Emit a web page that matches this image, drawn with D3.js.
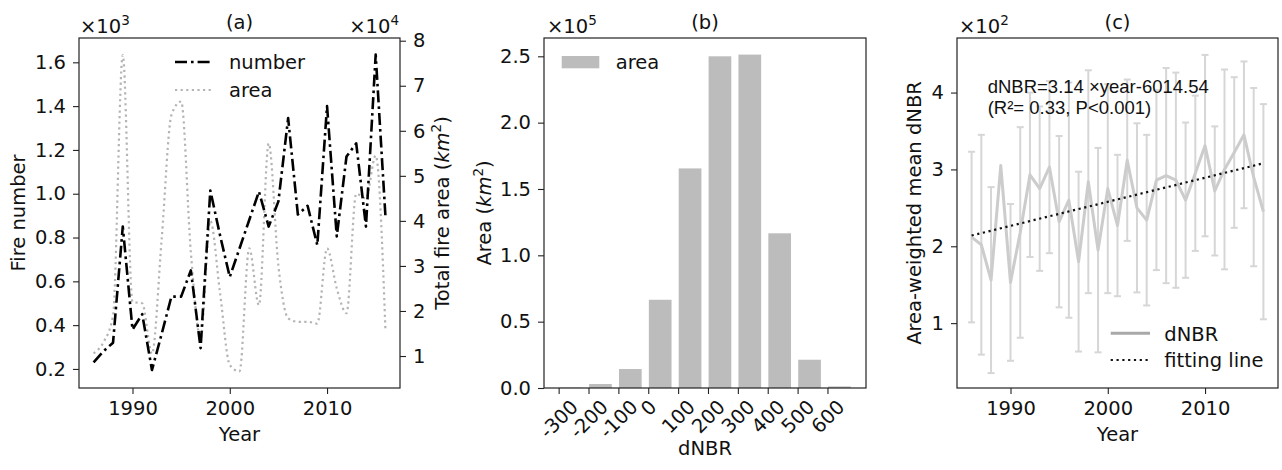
<html>
<head>
<style>
  body { margin: 0; background: #fff; }
  text { font-family: "DejaVu Sans", sans-serif; }
</style>
</head>
<body>
<svg id="chart" width="1282" height="470"></svg>
<script src="https://d3js.org/d3.v7.min.js"></script>
<script>
// ---- data ----
const years = [1986, 1987, 1988, 1989, 1990, 1991, 1992, 1993, 1994, 1995, 1996,
               1997, 1998, 1999, 2000, 2001, 2002, 2003, 2004, 2005, 2006,
               2007, 2008, 2009, 2010, 2011, 2012, 2013, 2014, 2015, 2016]
// fire number, x10^3
const fireNumber = [0.23, 0.28, 0.32, 0.85, 0.38, 0.45, 0.195, 0.36, 0.53, 0.53, 0.65,
                    0.295, 1.015, 0.81, 0.62, 0.75, 0.88, 1.01, 0.85, 0.965, 1.345,
                    0.905, 0.945, 0.765, 1.40, 0.805, 1.17, 1.23, 0.85, 1.635, 0.90]
// total fire area, x10^4 km2
const fireArea = [1.06, 1.3, 1.9, 7.68, 2.2, 2.17, 1.05, 3.6, 6.35, 6.65, 3.3,
                  1.4, 4.0, 2.4, 0.8, 0.66, 3.39, 2.13, 5.72, 3.0, 1.84,
                  1.76, 1.76, 1.72, 3.39, 2.5, 1.95, 4.6, 4.5, 5.45, 1.6]
// dNBR bins and burned area, x10^5 km2
const dnbrBins = [-300, -200, -100, 0, 100, 200, 300, 400, 500, 600]
const binArea = [0.003, 0.03, 0.143, 0.665, 1.655, 2.5, 2.513, 1.166, 0.213, 0.012]
// area-weighted mean dNBR and std, x10^2
const meanDnbr = [2.12, 2.02, 1.56, 3.05, 1.53, 2.18, 2.93, 2.75, 3.03, 2.32, 2.6,
                  1.8, 2.84, 1.95, 2.75, 2.27, 3.12, 2.5, 2.34, 2.86, 2.92,
                  2.86, 2.6, 2.95, 3.31, 2.72, 3.0, 3.22, 3.45, 2.9, 2.45]
const stdDnbr = [1.11, 1.43, 1.21, null, 1.02, 1.37, 1.07, 1.07, 1.12, 1.115, 1.53,
                 1.17, 1.45, 1.33, 1.36, 0.92, 1.05, 1.1, 1.11, 1.17, 1.4,
                 1.4, 1.01, 1.01, 1.18, 0.84, 1.3, 0.98, 0.955, 1.16, 1.4]
const fitYears = [1986, 2016]
const fitValues = [2.14, 3.08]

const svg = d3.select("#chart")
const FS = 19.5, SUP = "13.5px"
const plotTop = 38, plotBottom = 388

function frame(x0, x1) {
    svg.append("rect").attr("x", x0).attr("y", plotTop)
        .attr("width", x1 - x0).attr("height", plotBottom - plotTop)
        .attr("fill", "none").attr("stroke", "#222").attr("stroke-width", 1.2)
}

function styleAxis(g) {
    g.select(".domain").remove()
    g.selectAll(".tick line").attr("stroke", "#222").attr("stroke-width", 1.1)
    g.selectAll(".tick text").attr("fill", "#111")
        .style("font-family", "DejaVu Sans").style("font-size", FS + "px")
}

function offsetText(x, anchor, exp) {
    const t = svg.append("text").attr("x", x).attr("y", 33)
        .attr("text-anchor", anchor).style("font-size", FS + "px").attr("fill", "#111")
    t.append("tspan").text("\u00d710")
    t.append("tspan").attr("dy", -8).style("font-size", SUP).text(exp)
}

function title(x, s) {
    svg.append("text").attr("x", x).attr("y", 29).attr("text-anchor", "middle")
        .style("font-size", FS + "px").attr("fill", "#111").text(s)
}

function ylabel(x, cy, parts) {
    const t = svg.append("text").attr("transform", `translate(${x},${cy}) rotate(-90)`)
        .attr("text-anchor", "middle").style("font-size", FS + "px").attr("fill", "#111")
    parts.forEach(p => {
        const s = t.append("tspan").text(p.t)
        if (p.i) s.style("font-style", "italic")
        if (p.sup) s.attr("dy", -8).style("font-size", SUP)
        if (p.down) s.attr("dy", 8)
    })
}

function xlabel(x, y, s) {
    svg.append("text").attr("x", x).attr("y", y).attr("text-anchor", "middle")
        .style("font-size", FS + "px").attr("fill", "#111").text(s)
}

const kmParts = [{t: "("}, {t: "km", i: true}, {t: "2", sup: true}, {t: ")", down: true}]

// ================= panel (a) =================
const xA = d3.scaleLinear().domain([1984.5, 2017.5]).range([79, 400])
const yA = d3.scaleLinear().domain([0.113, 1.711]).range([plotBottom, plotTop])
const yA2 = d3.scaleLinear().domain([0.29, 8.06]).range([plotBottom, plotTop])

const areaLine = d3.line().x((d, i) => xA(years[i])).y(d => yA2(d)).curve(d3.curveMonotoneX)
svg.append("path").datum(fireArea).attr("d", areaLine)
    .attr("fill", "none").attr("stroke", "#b4b4b4").attr("stroke-width", 2.2)
    .attr("stroke-dasharray", "2.2,3.4")

const numLine = d3.line().x((d, i) => xA(years[i])).y(d => yA(d))
svg.append("path").datum(fireNumber).attr("d", numLine)
    .attr("fill", "none").attr("stroke", "#000").attr("stroke-width", 2.6)
    .attr("stroke-linejoin", "round")
    .attr("stroke-dasharray", "12,4,2.6,4")

svg.append("g").attr("transform", `translate(0,${plotBottom})`)
    .call(d3.axisBottom(xA).tickValues([1990, 2000, 2010]).tickFormat(d3.format("d"))
        .tickSize(6).tickPadding(7)).call(styleAxis)
svg.append("g").attr("transform", "translate(79,0)")
    .call(d3.axisLeft(yA).tickValues([0.2, 0.4, 0.6, 0.8, 1.0, 1.2, 1.4, 1.6])
        .tickFormat(d3.format(".1f")).tickSize(6).tickPadding(7)).call(styleAxis)
svg.append("g").attr("transform", "translate(400,0)")
    .call(d3.axisRight(yA2).tickValues([1, 2, 3, 4, 5, 6, 7, 8]).tickFormat(d3.format("d"))
        .tickSize(6).tickPadding(7)).call(styleAxis)
frame(79, 400)

// legend (a)
svg.append("line").attr("x1", 175).attr("x2", 213).attr("y1", 62).attr("y2", 62)
    .attr("stroke", "#000").attr("stroke-width", 2.6).attr("stroke-dasharray", "12,4,2.6,4")
svg.append("line").attr("x1", 175).attr("x2", 213).attr("y1", 90).attr("y2", 90)
    .attr("stroke", "#b4b4b4").attr("stroke-width", 2.2).attr("stroke-dasharray", "2.2,3.4")
svg.append("text").attr("x", 229).attr("y", 69).style("font-size", FS + "px").attr("fill", "#111").text("number")
svg.append("text").attr("x", 229).attr("y", 97).style("font-size", FS + "px").attr("fill", "#111").text("area")

title(239.5, "(a)")
offsetText(80, "start", "3")
offsetText(399, "end", "4")
ylabel(25, 213, [{t: "Fire number"}])
ylabel(449, 213, [{t: "Total fire area "}].concat(kmParts))
xlabel(239.5, 441, "Year")

// ================= panel (b) =================
const xB = d3.scaleLinear().domain([-349, 729]).range([544, 866])
const yB = d3.scaleLinear().domain([0, 2.638]).range([plotBottom, plotTop])

svg.append("g").selectAll("rect").data(binArea).join("rect")
    .attr("x", (d, i) => xB(dnbrBins[i]) + 0.6)
    .attr("width", xB(80) - xB(0) - 1.2)
    .attr("y", d => yB(d))
    .attr("height", d => yB(0) - yB(d))
    .attr("fill", "#bcbcbc")

const axB = svg.append("g").attr("transform", `translate(0,${plotBottom})`)
    .call(d3.axisBottom(xB).tickValues(dnbrBins).tickFormat(d => String(d))
        .tickSize(6).tickPadding(7)).call(styleAxis)
axB.selectAll(".tick text").each(function () {
    const w = this.getComputedTextLength()
    const half = (w + FS * 0.8) * 0.7071 / 2
    d3.select(this).attr("y", 0).attr("dy", null)
        .attr("text-anchor", "middle").attr("dominant-baseline", "central")
        .attr("transform", `translate(0,${10 + half}) rotate(-45)`)
})
svg.append("g").attr("transform", "translate(544,0)")
    .call(d3.axisLeft(yB).tickValues([0, 0.5, 1.0, 1.5, 2.0, 2.5])
        .tickFormat(d3.format(".1f")).tickSize(6).tickPadding(7)).call(styleAxis)
frame(544, 866)

svg.append("rect").attr("x", 561.7).attr("y", 56).attr("width", 37.6).attr("height", 12.3).attr("fill", "#bcbcbc")
svg.append("text").attr("x", 615.7).attr("y", 69).style("font-size", FS + "px").attr("fill", "#111").text("area")

title(705, "(b)")
offsetText(547, "start", "5")
ylabel(491, 213, [{t: "Area "}].concat(kmParts))
xlabel(705, 455, "dNBR")

// ================= panel (c) =================
const xC = d3.scaleLinear().domain([1984.5, 2017.5]).range([957, 1278])
const yC = d3.scaleLinear().domain([0.156, 4.71]).range([plotBottom, plotTop])

const eb = svg.append("g").attr("stroke", "#d6d6d6").attr("stroke-width", 2)
years.forEach((yr, i) => {
    const s = stdDnbr[i]
    if (s == null) return
    const x = xC(yr), y1 = yC(meanDnbr[i] + s), y0 = yC(meanDnbr[i] - s)
    eb.append("line").attr("x1", x).attr("x2", x).attr("y1", y1).attr("y2", y0)
    eb.append("line").attr("x1", x - 3.5).attr("x2", x + 3.5).attr("y1", y1).attr("y2", y1)
    eb.append("line").attr("x1", x - 3.5).attr("x2", x + 3.5).attr("y1", y0).attr("y2", y0)
})

const meanLine = d3.line().x((d, i) => xC(years[i])).y(d => yC(d))
svg.append("path").datum(meanDnbr).attr("d", meanLine)
    .attr("fill", "none").attr("stroke", "#cccccc").attr("stroke-width", 3)
    .attr("stroke-linejoin", "round")

const fitLine = d3.line().x((d, i) => xC(fitYears[i])).y(d => yC(d))
svg.append("path").datum(fitValues).attr("d", fitLine)
    .attr("fill", "none").attr("stroke", "#111").attr("stroke-width", 2.2)
    .attr("stroke-dasharray", "2.2,3.6")

svg.append("g").attr("transform", `translate(0,${plotBottom})`)
    .call(d3.axisBottom(xC).tickValues([1990, 2000, 2010]).tickFormat(d3.format("d"))
        .tickSize(6).tickPadding(7)).call(styleAxis)
svg.append("g").attr("transform", "translate(957,0)")
    .call(d3.axisLeft(yC).tickValues([1, 2, 3, 4]).tickFormat(d3.format("d"))
        .tickSize(6).tickPadding(7)).call(styleAxis)
frame(957, 1278)

svg.append("text").attr("x", 987.7).attr("y", 92.5)
    .style("font-family", "Liberation Sans").style("font-size", "18.5px").attr("fill", "#111")
    .text("dNBR=3.14 \u00d7year-6014.54")
svg.append("text").attr("x", 987.7).attr("y", 114)
    .style("font-family", "Liberation Sans").style("font-size", "18.5px").attr("fill", "#111")
    .text("(R\u00b2= 0.33, P<0.001)")

svg.append("line").attr("x1", 1110.7).attr("x2", 1150).attr("y1", 333.3).attr("y2", 333.3)
    .attr("stroke", "#a8a8a8").attr("stroke-width", 3)
svg.append("line").attr("x1", 1110.7).attr("x2", 1150).attr("y1", 360).attr("y2", 360)
    .attr("stroke", "#111").attr("stroke-width", 2.2).attr("stroke-dasharray", "2.2,3.6")
svg.append("text").attr("x", 1164.3).attr("y", 340.5).style("font-size", FS + "px").attr("fill", "#111").text("dNBR")
svg.append("text").attr("x", 1164.3).attr("y", 367).style("font-size", FS + "px").attr("fill", "#111").text("fitting line")

title(1117.5, "(c)")
offsetText(959, "start", "2")
ylabel(921, 213, [{t: "Area-weighted mean dNBR"}])
xlabel(1117.5, 441, "Year")
</script>
</body>
</html>
